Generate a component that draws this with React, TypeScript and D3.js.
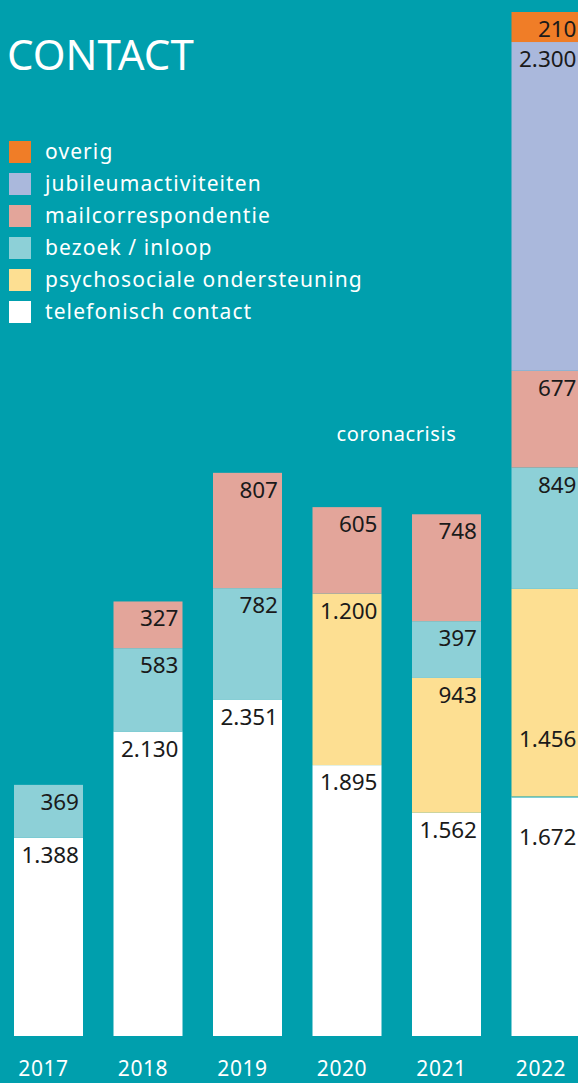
import React from "react";
import * as d3 from "d3";

const years = ["2017", "2018", "2019", "2020", "2021", "2022"];
const seriesKeys = ["telefonisch", "psychosociaal", "bezoek", "mail", "jubileum", "overig"];
const seriesLabels = [
  "telefonisch contact",
  "psychosociale ondersteuning",
  "bezoek / inloop",
  "mailcorrespondentie",
  "jubileumactiviteiten",
  "overig",
];
const seriesColors = ["#FFFFFF", "#FDDF92", "#8DD0D7", "#E3A59A", "#AAB8DC", "#F07D27"];

const telefonisch = [1388, 2130, 2351, 1895, 1562, 1672];
const psychosociaal = [0, 0, 0, 1200, 943, 1456];
const bezoek = [369, 583, 782, 0, 397, 849];
const mail = [0, 327, 807, 605, 748, 677];
const jubileum = [0, 0, 0, 0, 0, 2300];
const overig = [0, 0, 0, 0, 0, 210];

const seriesValues = [telefonisch, psychosociaal, bezoek, mail, jubileum, overig];

const W = 578;
const H = 1083;
const BG = "#009FAD";
const FONT = "'Noto Sans', sans-serif";

const fmt = (v: number) => {
  const s = String(v);
  return s.length > 3 ? s.slice(0, s.length - 3) + "." + s.slice(-3) : s;
};

export default function App() {
  const rows = years.map((y, i) => {
    const r: any = { year: y };
    seriesKeys.forEach((k, j) => (r[k] = seriesValues[j][i]));
    return r;
  });
  const stacked = d3.stack().keys(seriesKeys)(rows);
  const maxTotal = d3.max(rows, (r: any) => seriesKeys.reduce((a, k) => a + r[k], 0)) as number;

  const x = d3.scaleBand().domain(years).range([14, 580.5]).paddingInner(0.3065).paddingOuter(0);
  const y = d3.scaleLinear().domain([0, maxTotal]).range([1036, 12]);
  const bw = x.bandwidth();

  const legendOrder = [5, 4, 3, 2, 1, 0];

  return (
    <svg width={W} height={H} style={{ position: "absolute", left: 0, top: 0, display: "block" }} fontFamily={FONT}>
      <rect x={0} y={0} width={W} height={H} fill={BG} />
      <text x={7} y={70} fill="#fff" fontSize={42} fontWeight={400}>CONTACT</text>

      {legendOrder.map((j, li) => (
        <g key={seriesKeys[j]} transform={`translate(9, ${141 + li * 32})`}>
          <rect width={22} height={22} fill={seriesColors[j]} />
          <text x={36} y={18} fill="#fff" fontSize={21} letterSpacing={1.1}>{seriesLabels[j]}</text>
        </g>
      ))}

      {stacked.map((layer, j) => (
        <g key={layer.key}>
          {layer.map((d: any, i: number) => {
            const v = d[1] - d[0];
            if (v <= 0) return null;
            const x0 = x(years[i]) as number;
            const top = y(d[1]);
            const bottom = y(d[0]);
            const last = years[i] === "2022";
            let ly = top + 25;
            if (last && layer.key === "psychosociaal") ly = bottom - 50;
            if (last && layer.key === "telefonisch") ly = top + 48;
            return (
              <g key={i}>
                <rect x={x0} y={top} width={bw} height={bottom - top} fill={seriesColors[j]} />
                <text x={x0 + bw - 4} y={ly} textAnchor="end" fill="#1a1a1a" fontSize={22.5}>
                  {fmt(v)}
                </text>
              </g>
            );
          })}
        </g>
      ))}

      <line x1={x("2022") as number} x2={(x("2022") as number) + bw} y1={y(telefonisch[5])} y2={y(telefonisch[5])} stroke={BG} strokeWidth={1} />

      <text x={(x("2020") as number) + bw + 15} y={441} textAnchor="middle" fill="#fff" fontSize={20} letterSpacing={0.6}>coronacrisis</text>

      {years.map((yr) => (
        <text key={yr} x={(x(yr) as number) + bw / 2 - 5} y={1076} textAnchor="middle" fill="#fff" fontSize={21} letterSpacing={0.6}>{yr}</text>
      ))}
    </svg>
  );
}
